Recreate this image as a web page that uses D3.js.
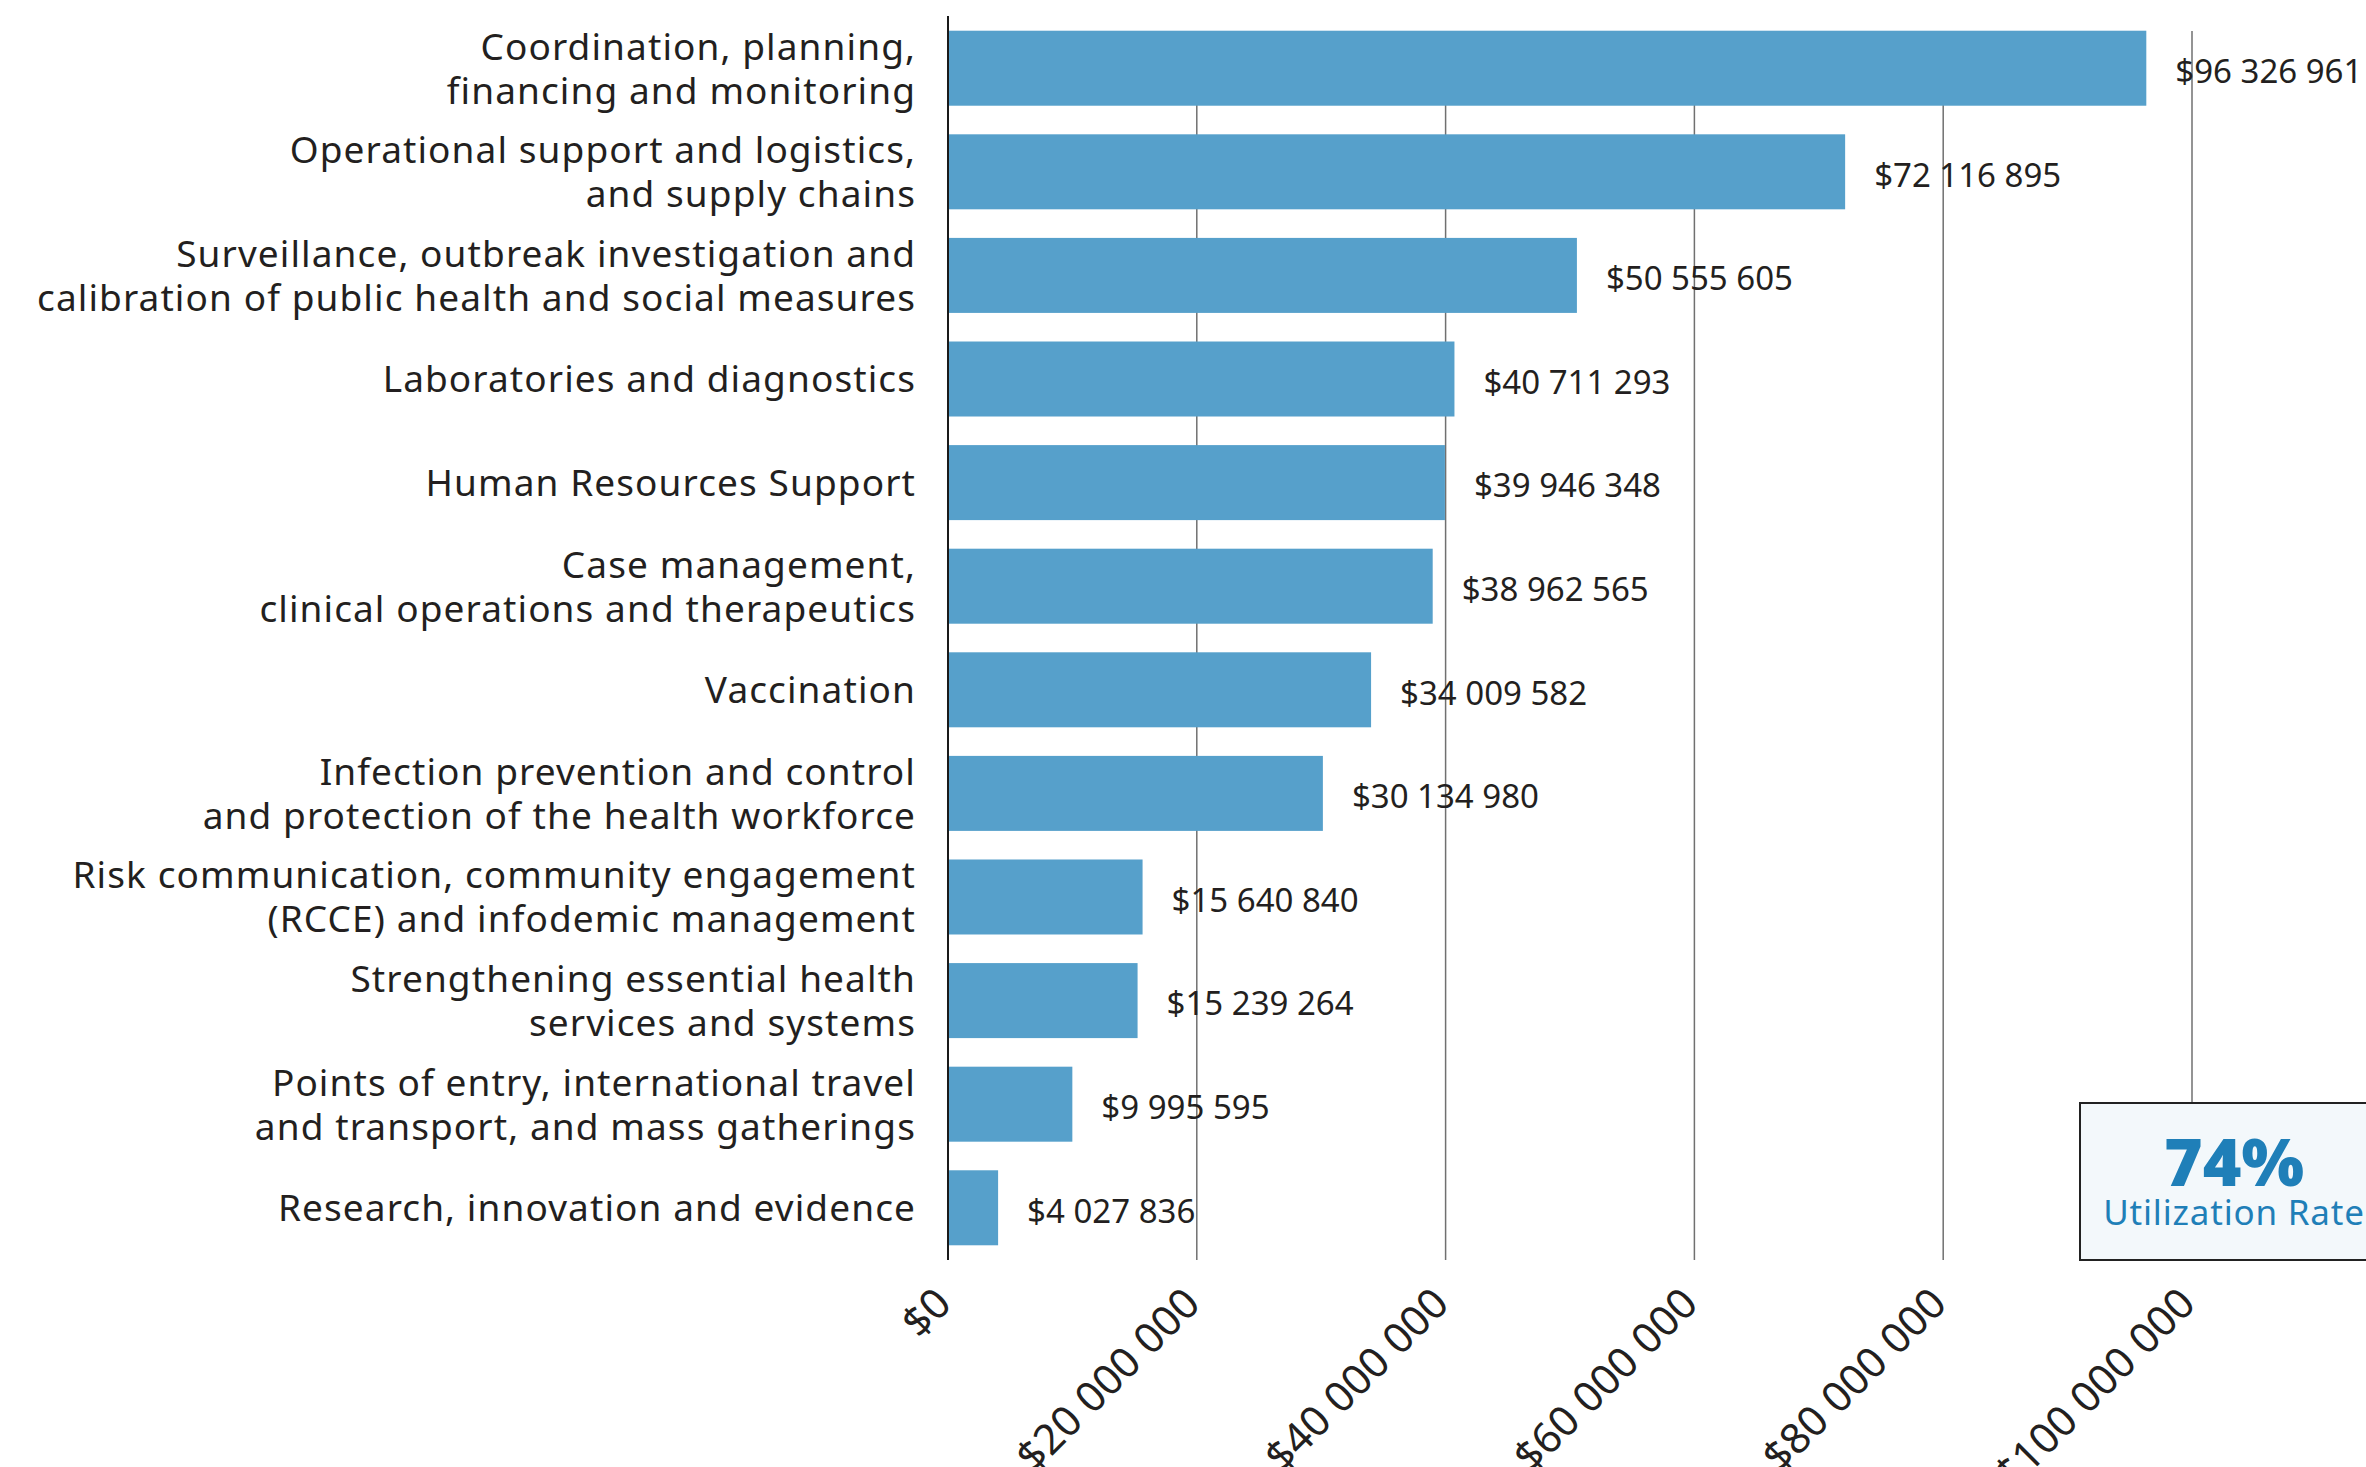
<!DOCTYPE html>
<html>
<head>
<meta charset="utf-8">
<script src="https://cdn.jsdelivr.net/npm/d3@7"></script>
<style>
  body { margin: 0; background: #fff; }
  svg { display: block; font-family: "Noto Sans", sans-serif; }
</style>
</head>
<body>
<div id="chart"></div>
<script>
// categorieen (regels gescheiden met |) en bedragen
const categories = [
  'Coordination, planning,|financing and monitoring',
  'Operational support and logistics,|and supply chains',
  'Surveillance, outbreak investigation and|calibration of public health and social measures',
  'Laboratories and diagnostics',
  'Human Resources Support',
  'Case management,|clinical operations and therapeutics',
  'Vaccination',
  'Infection prevention and control|and protection of the health workforce',
  'Risk communication, community engagement|(RCCE) and infodemic management',
  'Strengthening essential health|services and systems',
  'Points of entry, international travel|and transport, and mass gatherings',
  'Research, innovation and evidence'
]
const amounts = [96326961, 72116895, 50555605, 40711293, 39946348, 38962565,
  34009582, 30134980, 15640840, 15239264, 9995595, 4027836]
const xTicks = [0, 20000000, 40000000, 60000000, 80000000, 100000000]
const rateValue = '74%'
const rateLabel = 'Utilization Rate'

const width = 2366
const height = 1467
const barColor = '#56a0cb'
const textColor = '#231f20'

const data = categories.map((c, i) => ({ cat: c, value: amounts[i] }))

// bedragen met spatie als duizendtal scheiding
const locale = d3.formatLocale({ decimal: '.', thousands: ' ', grouping: [3], currency: ['$', ''] })
const money = locale.format('$,')

const svg = d3.select('#chart').append('svg')
  .attr('width', width).attr('height', height)

svg.append('rect').attr('width', width).attr('height', height).attr('fill', '#fff')

const xScale = d3.scaleLinear().domain([0, 100000000]).range([948, 2192])
const yScale = d3.scaleBand()
  .domain(data.map(d => d.cat))
  .range([16, 1260])
  .paddingInner(0.276)
  .paddingOuter(0.142)

const axisBottomY = 1260

// gridlijnen
svg.append('g')
  .selectAll('line')
  .data(xTicks.slice(1))
  .enter().append('line')
  .attr('x1', d => xScale(d)).attr('x2', d => xScale(d))
  .attr('y1', yScale.range()[0] + 15).attr('y2', axisBottomY)
  .attr('stroke', '#707070').attr('stroke-width', 1.5)

// bars
svg.append('g')
  .selectAll('rect')
  .data(data)
  .enter().append('rect')
  .attr('x', xScale(0))
  .attr('y', d => yScale(d.cat))
  .attr('width', d => xScale(d.value) - xScale(0))
  .attr('height', yScale.bandwidth())
  .attr('fill', barColor)

// y-as lijn
svg.append('line')
  .attr('x1', xScale(0)).attr('x2', xScale(0))
  .attr('y1', 16).attr('y2', axisBottomY)
  .attr('stroke', '#1a1a1a').attr('stroke-width', 2)

// waarde labels
svg.append('g')
  .selectAll('text')
  .data(data)
  .enter().append('text')
  .attr('x', d => xScale(d.value) + 29)
  .attr('y', d => yScale(d.cat) + yScale.bandwidth() / 2 + 3)
  .attr('dy', '0.36em')
  .attr('font-size', 33)
  .attr('fill', textColor)
  .text(d => money(d.value))

// categorie labels
const lineGap = 44
const catLabels = svg.append('g')
  .selectAll('text')
  .data(data)
  .enter().append('text')
  .attr('text-anchor', 'end')
  .attr('font-size', 37)
  .attr('letter-spacing', 1.1)
  .attr('fill', textColor)

catLabels.each(function (d) {
  const lines = d.cat.split('|')
  const cy = yScale(d.cat) + yScale.bandwidth() / 2
  d3.select(this).selectAll('tspan')
    .data(lines)
    .enter().append('tspan')
    .attr('x', 916)
    .attr('y', (l, i) => cy + (i - (lines.length - 1) / 2) * lineGap)
    .attr('dy', '0.36em')
    .text(l => l)
})

// x-as
const xAxis = d3.axisBottom(xScale)
  .tickValues(xTicks)
  .tickFormat(money)
  .tickSize(0)

const xAxisG = svg.append('g')
  .attr('transform', `translate(0, ${axisBottomY})`)
  .call(xAxis)
xAxisG.select('.domain').remove()
xAxisG.selectAll('text')
  .attr('font-family', '"Noto Sans", sans-serif')
  .attr('font-size', 42)
  .attr('fill', textColor)
  .attr('text-anchor', 'end')
  .attr('x', 0).attr('y', 0).attr('dy', 0)
  .attr('transform', 'translate(5, 46) rotate(-45)')

// utilization kader
const box = svg.append('g')
box.append('rect')
  .attr('x', 2080).attr('y', 1103)
  .attr('width', 320).attr('height', 157)
  .attr('fill', '#f3f8fb')
  .attr('stroke', '#222').attr('stroke-width', 2)
box.append('text')
  .attr('x', 2234).attr('y', 1186)
  .attr('text-anchor', 'middle')
  .attr('font-size', 66).attr('font-weight', 900)
  .attr('fill', '#1f7fb8')
  .text(rateValue)
box.append('text')
  .attr('x', 2234).attr('y', 1225)
  .attr('text-anchor', 'middle')
  .attr('font-size', 35)
  .attr('letter-spacing', 0.8)
  .attr('fill', '#1f7fb8')
  .text(rateLabel)
</script>
</body>
</html>
